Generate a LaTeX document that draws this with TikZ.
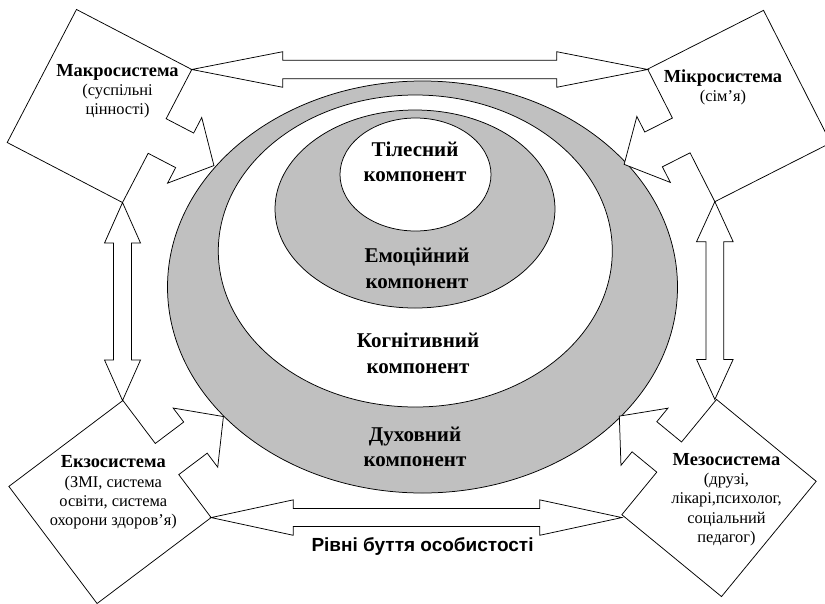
\documentclass[tikz,border=0pt]{standalone}
\usepackage{fontspec}
\setmainfont{Liberation Serif}
\newfontfamily\labelsans{Liberation Sans}
\usetikzlibrary{shapes.geometric,calc}
\definecolor{band}{RGB}{192,192,192}
\newcommand\systitle{\bfseries\fontsize{18.4}{19.2}\selectfont}
\tikzset{
  callbox/.style={draw=black, fill=white, line width=0.75pt, line join=miter},
  ring/.style={ellipse, draw=black, line width=0.75pt, inner sep=0pt, outer sep=0pt},
  comp/.style={font=\bfseries\fontsize{21}{25.7}\selectfont, align=center, anchor=base, inner sep=0pt},
  systext/.style={font=\fontsize{16.4}{19.2}\selectfont, align=center, anchor=base, inner sep=0pt},
  levellabel/.style={font=\labelsans\bfseries\fontsize{19}{22}\selectfont, anchor=base, inner sep=0pt}
}
% name, centre, rotation, half-length, half-width, shaft end, tip
\newcommand\callout[7]{%
  \begin{scope}[shift={(#2)}, rotate=#3]
    \draw[callbox] (-#4,-#5) coordinate (#1-a) -- (#4,-#5) coordinate (#1-b)
      -- (#4,-19.5) -- (#6,-19.5) -- (#6,-37) -- (#7,0) coordinate (#1-tip)
      -- (#6,37) -- (#6,19.5) -- (#4,19.5) -- (#4,#5) coordinate (#1-c)
      -- (-#4,#5) coordinate (#1-d) -- cycle;
  \end{scope}}
% horizontal double block arrow: left tip, right tip, head length, head half-width, shaft half-width
\newcommand\hdarrow[5]{%
  \draw[callbox] (#1) -- ++(#3,-#4) -- ++(0,#4-#5) -- ($(#2)+(-#3,-#5)$) -- ++(0,#5-#4)
    -- (#2) -- ++(-#3,#4) -- ++(0,#5-#4) -- ($(#1)+(#3,#5)$) -- ++(0,#4-#5) -- cycle;}
% vertical double block arrow: top tip, bottom tip, head length, head half-width, shaft half-width
\newcommand\vdarrow[5]{%
  \draw[callbox] (#1) -- ++(#4,#3) -- ++(#5-#4,0) -- ($(#2)+(#5,-#3)$) -- ++(#4-#5,0)
    -- (#2) -- ++(-#4,-#3) -- ++(#4-#5,0) -- ($(#1)+(-#5,#3)$) -- ++(#5-#4,0) -- cycle;}
\begin{document}
\begin{tikzpicture}[x=1pt,y=-1pt]
\useasboundingbox (0,0) rectangle (825,603);
% nested components
\node[ring, fill=band,  minimum width=510pt, minimum height=412pt] (duh) at (422.5,287) {};
\node[ring, fill=white, minimum width=394pt, minimum height=312pt] (kog) at (415.3,251) {};
\node[ring, fill=band,  minimum width=280pt, minimum height=198pt] (emo) at (415,209) {};
\node[ring, fill=white, minimum width=151pt, minimum height=113pt] (til) at (415.5,174.5) {};
% systems (callout boxes)
\callout{tl}{99.5,106}{-27.5}{65}{75}{96}{129}
\callout{tr}{739.2,106}{-153.1}{65}{74.3}{96}{129}
\callout{bl}{110,502}{37}{71.4}{73.3}{107}{142}
\callout{br}{719,498}{140.6}{64.5}{74.6}{96.5}{129}
% end points of the double arrows
\coordinate (topR) at (tr-c |- tl-b);
\coordinate (botR) at (br-b |- bl-c);
\coordinate (leftB) at (tl-c |- bl-b);
\coordinate (rightB) at (tr-b |- br-c);
\hdarrow{tl-b}{topR}{91}{17.8}{9.3}
\hdarrow{bl-c}{botR}{82}{17.7}{9}
\vdarrow{tl-c}{leftB}{40.5}{18}{9}
\vdarrow{tr-b}{rightB}{40}{18.3}{8.9}
% texts (anchor base = baseline of the last line)
\node[systext] (makro) at (117.5,114.5) {{\systitle Макросистема}\\(суспільні\\цінності)};
\node[systext] (mikro) at (723,101.5) {{\systitle Мікросистема}\\(сім’я)};
\node[systext] (ekzo) at (113.3,525.5) {{\systitle Екзосистема}\\(ЗМІ, система\\освіти, система\\охорони здоров’я)};
\node[systext] (mezo) at (726.5,542.3) {{\systitle Мезосистема}\\(друзі,\\лікарі,психолог,\\соціальний\\педагог)};
\node[comp] (t1) at (415,181.7) {Тілесний\\компонент};
\node[comp] (t2) at (417,288.3) {Емоційний\\компонент};
\node[comp] (t3) at (418,373.3) {Когнітивний\\компонент};
\node[comp] (t4) at (415,466.7) {Духовний\\компонент};
\node[levellabel] (lvl) at (422.5,551.7) {Рівні буття особистості};
\end{tikzpicture}
\end{document}
